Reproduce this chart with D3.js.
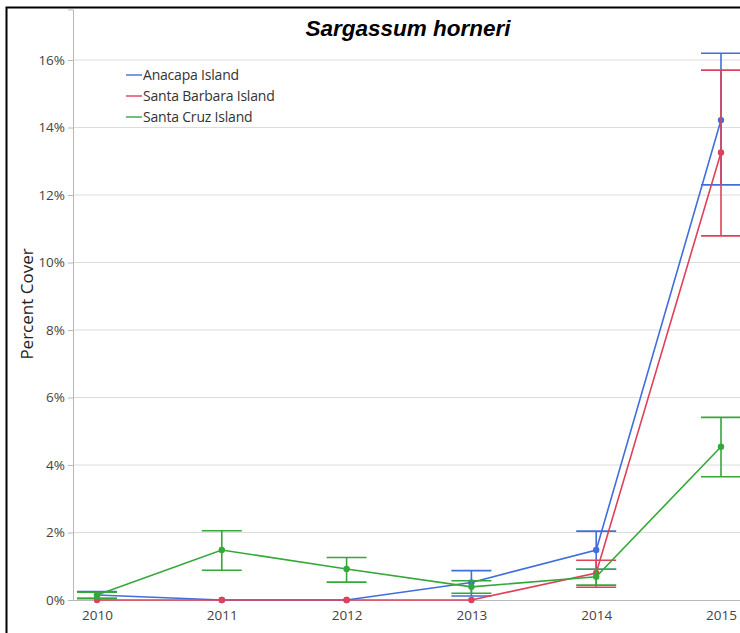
<!DOCTYPE html>
<html><head><meta charset="utf-8">
<script src="https://cdn.jsdelivr.net/npm/d3@7"></script>
<style>body{margin:0;background:#fff}svg{display:block}</style>
</head><body>
<svg id="c" width="740" height="633"></svg>
<script>
const years = [2010, 2011, 2012, 2013, 2014, 2015];
const seriesNames = ["Anacapa Island", "Santa Barbara Island", "Santa Cruz Island"];
const seriesColors = ["#3f6fdc", "#e0405a", "#35a83a"];
const anacapaMean = [0.15, 0, 0, 0.52, 1.48, 14.22];
const anacapaLow  = [0.05, 0, 0, 0.12, 0.91, 12.3];
const anacapaHigh = [0.25, 0, 0, 0.87, 2.04, 16.2];
const barbaraMean = [0, 0, 0, 0, 0.8, 13.26];
const barbaraLow  = [0, 0, 0, 0, 0.38, 10.79];
const barbaraHigh = [0, 0, 0, 0, 1.18, 15.7];
const cruzMean = [0.15, 1.48, 0.92, 0.39, 0.69, 4.54];
const cruzLow  = [0.04, 0.88, 0.53, 0.2, 0.44, 3.65];
const cruzHigh = [0.23, 2.05, 1.26, 0.57, 0.91, 5.41];
const yTicks = [0, 2, 4, 6, 8, 10, 12, 14, 16];

const series = [
  {name: seriesNames[0], color: seriesColors[0], mean: anacapaMean, low: anacapaLow, high: anacapaHigh},
  {name: seriesNames[1], color: seriesColors[1], mean: barbaraMean, low: barbaraLow, high: barbaraHigh},
  {name: seriesNames[2], color: seriesColors[2], mean: cruzMean, low: cruzLow, high: cruzHigh}
];

const svg = d3.select("#c");
const x = d3.scaleLinear().domain([2010, 2015]).range([97, 721]);
const y = d3.scaleLinear().domain([0, 17.5]).range([600, 9.4]);

// gridlines
svg.append("g").selectAll("line").data(yTicks.slice(1)).join("line")
  .attr("x1", 73).attr("x2", 740).attr("y1", d => y(d)).attr("y2", d => y(d))
  .attr("stroke", "#dcdcdc").attr("stroke-width", 1);

// y axis
const yAxis = svg.append("g").attr("transform", "translate(73,0)")
  .call(d3.axisLeft(y).tickValues(yTicks).tickFormat(d => d + "%").tickSize(5).tickPadding(3));
yAxis.select(".domain").attr("stroke", "#b8b8b8");
yAxis.selectAll(".tick line").attr("stroke", "#b8b8b8");
yAxis.selectAll("text").attr("font-family", "'Open Sans', sans-serif").attr("font-size", 13.5).attr("fill", "#444");

// x axis
const xAxis = svg.append("g").attr("transform", "translate(0,600)")
  .call(d3.axisBottom(x).tickValues(years).tickFormat(d3.format("d")).tickSize(0).tickPadding(10));
xAxis.select(".domain").remove();
svg.append("line").attr("x1", 73).attr("x2", 740).attr("y1", 600.5).attr("y2", 600.5).attr("stroke", "#b8b8b8");
xAxis.selectAll("text").attr("font-family", "'Open Sans', sans-serif").attr("font-size", 13.5).attr("fill", "#444");

// lines, error bars, points
const line = d3.line().x((d, i) => x(years[i])).y(d => y(d));
series.forEach(s => {
  const g = svg.append("g");
  g.append("path").attr("d", line(s.mean)).attr("fill", "none").attr("stroke", s.color).attr("stroke-width", 1.6);
  years.forEach((yr, i) => {
    if (s.high[i] - s.low[i] <= 0) return;
    const cx = x(yr);
    g.append("line").attr("x1", cx).attr("x2", cx).attr("y1", y(s.low[i])).attr("y2", y(s.high[i]))
      .attr("stroke", s.color).attr("stroke-width", 1.6);
    [s.low[i], s.high[i]].forEach(v => {
      g.append("line").attr("x1", cx - 20).attr("x2", cx + 20).attr("y1", y(v)).attr("y2", y(v))
        .attr("stroke", s.color).attr("stroke-width", 1.6);
    });
  });
  g.selectAll("circle").data(s.mean).join("circle")
    .attr("cx", (d, i) => x(years[i])).attr("cy", d => y(d)).attr("r", 3.2).attr("fill", s.color);
});

// legend
series.forEach((s, i) => {
  const ly = 75 + i * 21;
  svg.append("line").attr("x1", 126).attr("x2", 142).attr("y1", ly).attr("y2", ly).attr("stroke", s.color).attr("stroke-width", 1.4);
  svg.append("text").attr("x", 143).attr("y", ly + 5).text(s.name)
    .attr("font-family", "'Open Sans', sans-serif").attr("font-size", 14).attr("fill", "#333").attr("letter-spacing", -0.2);
});

// title
svg.append("text").attr("x", 408).attr("y", 36).attr("text-anchor", "middle")
  .attr("font-family", "'Liberation Sans', Arial, sans-serif").attr("font-size", 22.5)
  .attr("font-weight", "bold").attr("font-style", "italic").attr("fill", "#000").text("Sargassum horneri");

// y label
svg.append("text").attr("transform", "translate(33,304) rotate(-90)").attr("text-anchor", "middle")
  .attr("font-family", "'Open Sans', sans-serif").attr("font-size", 17).attr("fill", "#222").text("Percent Cover");

// frame
svg.append("path").attr("d", "M6.5,633 V7.5 H740").attr("fill", "none").attr("stroke", "#000").attr("stroke-width", 2);
</script>
</body></html>
